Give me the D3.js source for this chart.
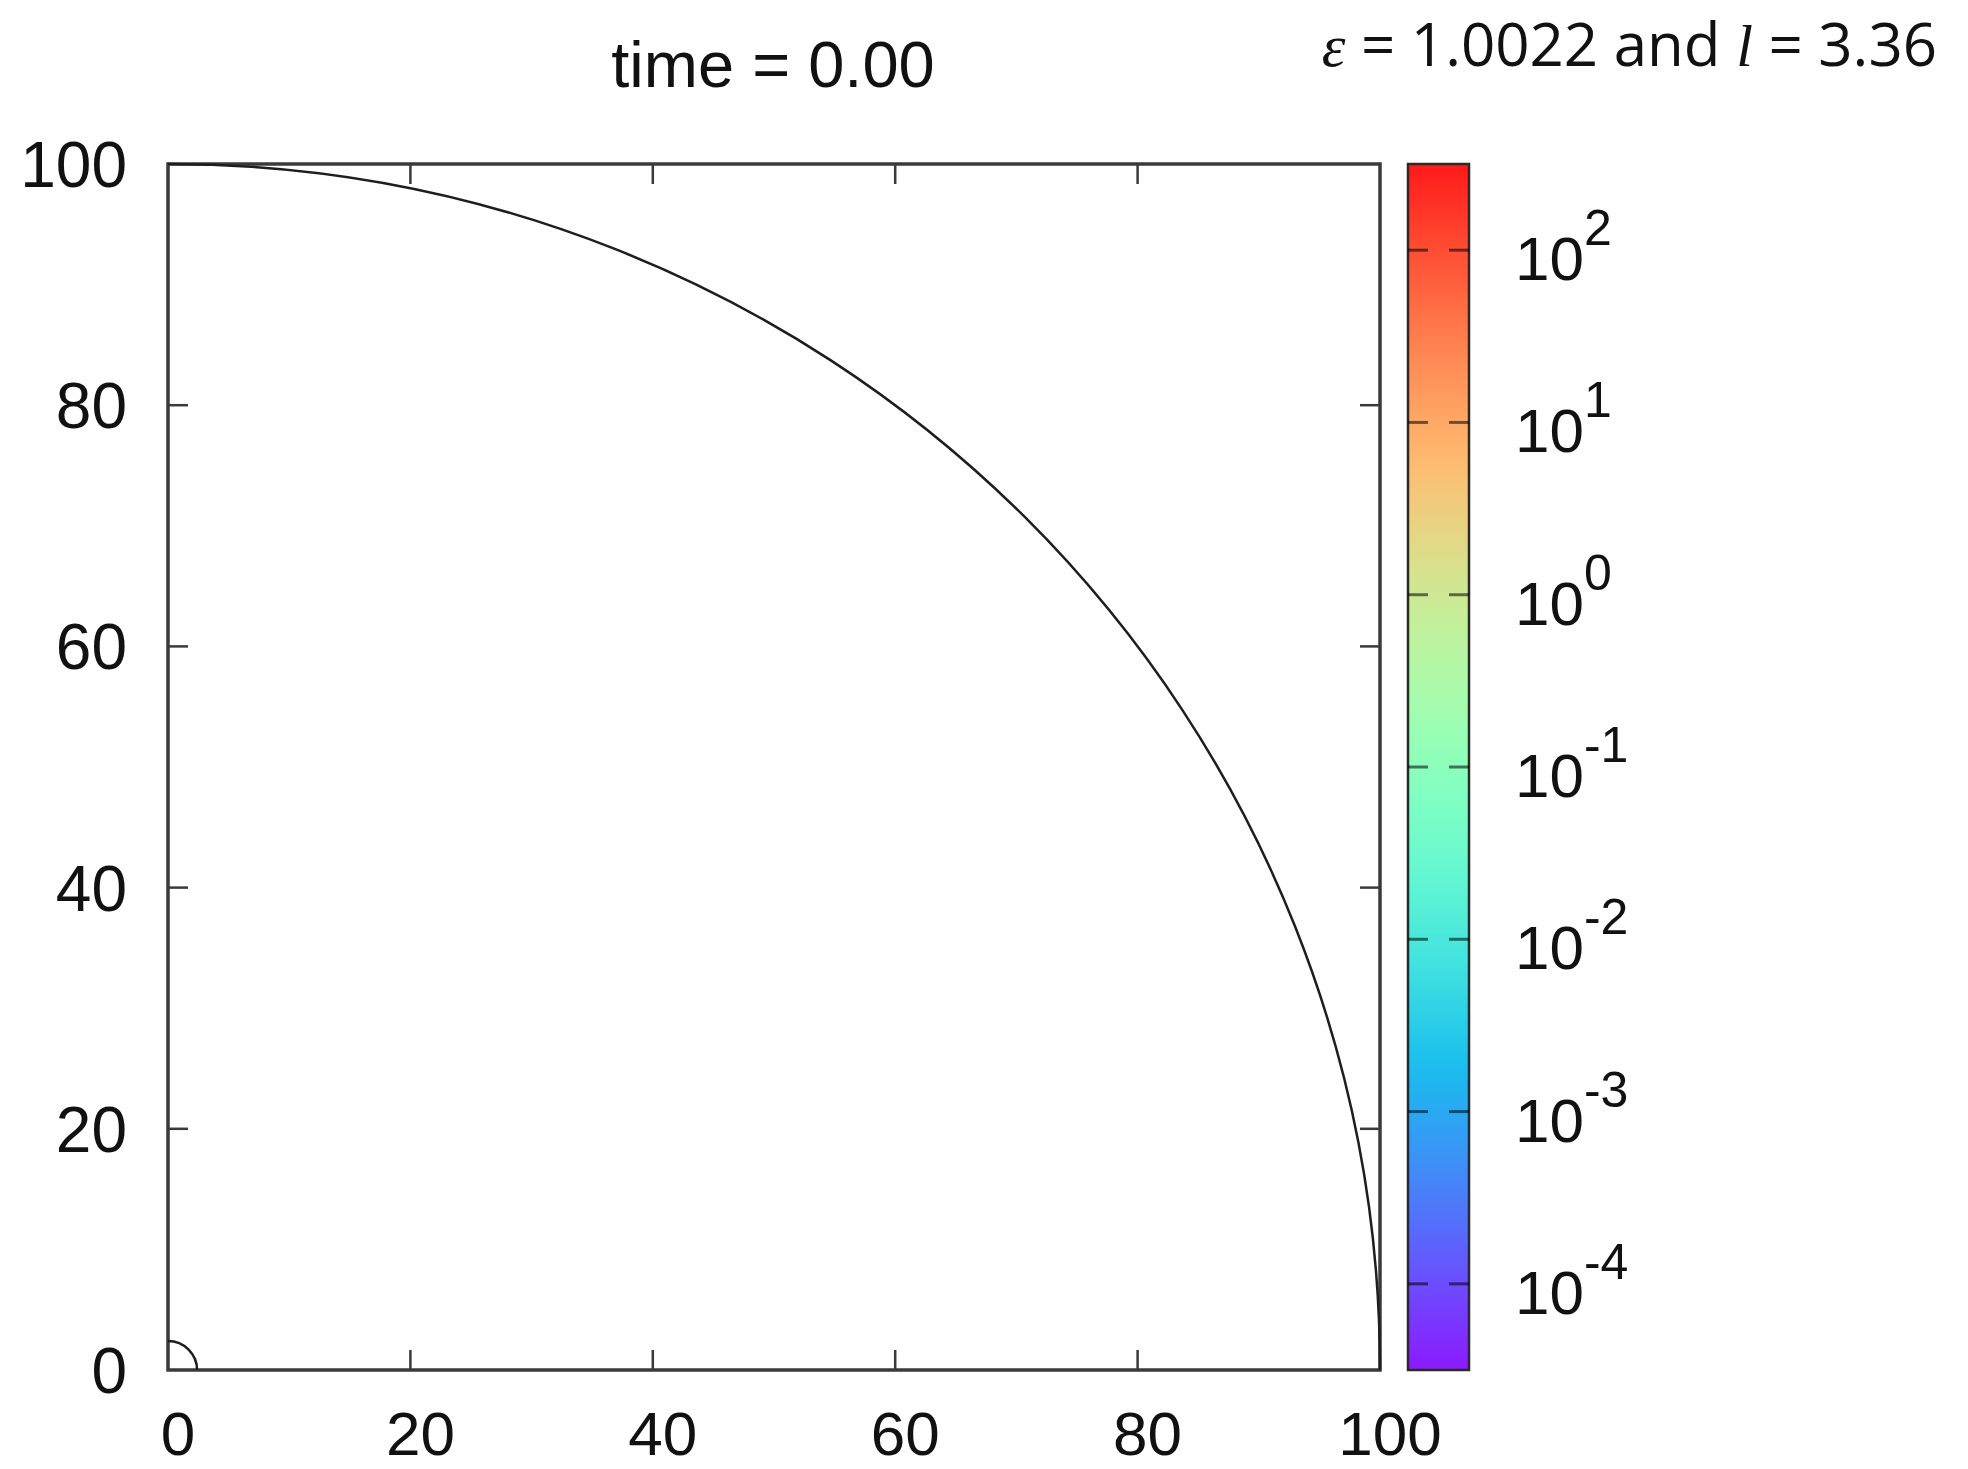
<!DOCTYPE html>
<html>
<head>
<meta charset="utf-8">
<script src="https://cdn.jsdelivr.net/npm/d3@7"></script>
<style>
  html, body { margin: 0; padding: 0; background: #fefefe; }
  #chart { width: 1968px; height: 1469px; }
</style>
</head>
<body>
<div id="chart"></div>
<script>
// values
const xTicks = [0, 20, 40, 60, 80, 100];
const yTicks = [0, 20, 40, 60, 80, 100];
const interfaceRadii = [100, 2.4]; // outer drop front, small inner seed at the origin
const colorDomain = [Math.pow(10, -4.5), Math.pow(10, 2.5)];
const cbExponents = [2, 1, 0, -1, -2, -3, -4];
const titleText = "time = 0.00";
const epsText = "1.0022";
const lText = "3.36";

class Chart {
  constructor() {
    const attrs = {
      container: "#chart",
      svgWidth: 1968,
      svgHeight: 1469,
      plotLeft: 168,
      plotRight: 1380,
      plotTop: 164,
      plotBottom: 1370,
      cbLeft: 1408,
      cbRight: 1469,
      tickLen: 20,
      frameColor: "#3a3a3a",
      defaultFont: "'Liberation Sans', Arial, Helvetica, sans-serif",
    };
    this.getState = () => attrs;
    this.setState = (d) => Object.assign(attrs, d);
  }

  render() {
    this.calculateScales();
    this.drawSvg();
    this.drawFrame();
    this.drawInterfaces();
    this.drawAxisLabels();
    this.drawColorbar();
    this.drawTitles();
    return this;
  }

  calculateScales() {
    const { plotLeft, plotRight, plotTop, plotBottom } = this.getState();
    const x = d3.scaleLinear().domain([0, 100]).range([plotLeft, plotRight]);
    const y = d3.scaleLinear().domain([0, 100]).range([plotBottom, plotTop]);
    const cb = d3.scaleLog().domain(colorDomain).range([plotBottom, plotTop]);
    this.setState({ x, y, cb });
  }

  drawSvg() {
    const { container, svgWidth, svgHeight, defaultFont } = this.getState();
    const svg = d3.select(container).append("svg")
      .attr("width", svgWidth)
      .attr("height", svgHeight)
      .attr("font-family", defaultFont);
    svg.append("rect").attr("width", svgWidth).attr("height", svgHeight).attr("fill", "#fefefe");
    this.setState({ svg });
  }

  drawFrame() {
    const { svg, x, y, tickLen, frameColor } = this.getState();
    const g = svg.append("g").attr("class", "frame");

    g.append("rect")
      .attr("x", x(0)).attr("y", y(100))
      .attr("width", x(100) - x(0)).attr("height", y(0) - y(100))
      .attr("fill", "none").attr("stroke", frameColor).attr("stroke-width", 3.5);

    const inner = xTicks.filter(d => d > 0 && d < 100);
    // bottom + top ticks
    g.selectAll(".xt-b").data(inner).enter().append("line")
      .attr("x1", d => x(d)).attr("x2", d => x(d))
      .attr("y1", y(0)).attr("y2", y(0) - tickLen)
      .attr("stroke", frameColor).attr("stroke-width", 2.5);
    g.selectAll(".xt-t").data(inner).enter().append("line")
      .attr("x1", d => x(d)).attr("x2", d => x(d))
      .attr("y1", y(100)).attr("y2", y(100) + tickLen)
      .attr("stroke", frameColor).attr("stroke-width", 2.5);

    const innerY = yTicks.filter(d => d > 0 && d < 100);
    g.selectAll(".yt-l").data(innerY).enter().append("line")
      .attr("y1", d => y(d)).attr("y2", d => y(d))
      .attr("x1", x(0)).attr("x2", x(0) + tickLen)
      .attr("stroke", frameColor).attr("stroke-width", 2.5);
    g.selectAll(".yt-r").data(innerY).enter().append("line")
      .attr("y1", d => y(d)).attr("y2", d => y(d))
      .attr("x1", x(100)).attr("x2", x(100) - tickLen)
      .attr("stroke", frameColor).attr("stroke-width", 2.5);
  }

  drawInterfaces() {
    const { svg, x, y } = this.getState();
    // quarter arcs centred on (0,0), radius in data units
    svg.append("g").selectAll("path").data(interfaceRadii).enter().append("path")
      .attr("d", r => {
        const rx = x(r) - x(0), ry = y(0) - y(r);
        return `M${x(0)},${y(r)} A${rx},${ry} 0 0 1 ${x(r)},${y(0)}`;
      })
      .attr("fill", "none")
      .attr("stroke", "#1e1e1e")
      .attr("stroke-width", 2.5);
  }

  drawAxisLabels() {
    const { svg, x, y } = this.getState();
    svg.append("g").selectAll("text").data(xTicks).enter().append("text")
      .attr("x", d => x(d) + 10)
      .attr("y", 1455)
      .attr("text-anchor", "middle")
      .attr("font-size", 62)
      .attr("fill", "#111")
      .text(d => d);

    svg.append("g").selectAll("text").data(yTicks).enter().append("text")
      .attr("x", 127)
      .attr("y", d => y(d) + 23)
      .attr("text-anchor", "end")
      .attr("font-size", 64)
      .attr("fill", "#111")
      .text(d => d);
  }

  drawColorbar() {
    const { svg, cb, cbLeft, cbRight, plotTop, plotBottom, tickLen } = this.getState();

    // gnuplot rgbformulae 33,13,10 (rainbow), a touch washed out like the video
    const rainbow = t => {
      const r = Math.min(1, Math.abs(2 * t - 0.5));
      const g = Math.sin(Math.PI * t);
      const b = Math.cos(Math.PI * t / 2);
      const c = d3.rgb(r * 255, g * 255, b * 255);
      return d3.interpolateRgb(c, "#ffffff")(0.1);
    };

    const grad = svg.append("defs").append("linearGradient")
      .attr("id", "cbgrad")
      .attr("x1", 0).attr("y1", 1).attr("x2", 0).attr("y2", 0);
    grad.selectAll("stop").data(d3.range(0, 1.0001, 0.02)).enter().append("stop")
      .attr("offset", d => d)
      .attr("stop-color", d => rainbow(d));

    const g = svg.append("g").attr("class", "colorbar");
    g.append("rect")
      .attr("x", cbLeft).attr("y", plotTop)
      .attr("width", cbRight - cbLeft).attr("height", plotBottom - plotTop)
      .attr("fill", "url(#cbgrad)")
      .attr("stroke", "#2a2a2a").attr("stroke-width", 2.5);

    const ticks = cbExponents.map(e => Math.pow(10, e));
    g.selectAll(".cbt-l").data(ticks).enter().append("line")
      .attr("x1", cbLeft).attr("x2", cbLeft + tickLen)
      .attr("y1", d => cb(d)).attr("y2", d => cb(d))
      .attr("stroke", "#000").attr("stroke-opacity", 0.55).attr("stroke-width", 3);
    g.selectAll(".cbt-r").data(ticks).enter().append("line")
      .attr("x1", cbRight - tickLen).attr("x2", cbRight)
      .attr("y1", d => cb(d)).attr("y2", d => cb(d))
      .attr("stroke", "#000").attr("stroke-opacity", 0.55).attr("stroke-width", 3);

    const lab = g.selectAll(".cbl").data(cbExponents).enter().append("text")
      .attr("x", 1515)
      .attr("y", e => cb(Math.pow(10, e)) + 30)
      .attr("font-size", 62)
      .attr("fill", "#111");
    lab.append("tspan").text("10");
    lab.append("tspan")
      .attr("dy", -35)
      .attr("font-size", 50)
      .text(e => e < 0 ? "-" + Math.abs(e) : e);
  }

  drawTitles() {
    const { svg } = this.getState();
    svg.append("text")
      .attr("x", 773).attr("y", 87)
      .attr("text-anchor", "middle")
      .attr("font-size", 65)
      .attr("fill", "#111")
      .text(titleText);

    const t = svg.append("text")
      .attr("x", 1937).attr("y", 66)
      .attr("text-anchor", "end")
      .attr("font-family", "'Open Sans', 'Noto Sans', sans-serif")
      .attr("font-size", 60)
      .attr("fill", "#111");
    t.append("tspan").attr("font-family", "'Liberation Serif', serif").attr("font-style", "italic").text("\u03b5");
    t.append("tspan").text(" = " + epsText + " and ");
    t.append("tspan").attr("font-family", "'Liberation Serif', serif").attr("font-style", "italic").text("l");
    t.append("tspan").text(" = " + lText);
  }
}

new Chart().render();
</script>
</body>
</html>
